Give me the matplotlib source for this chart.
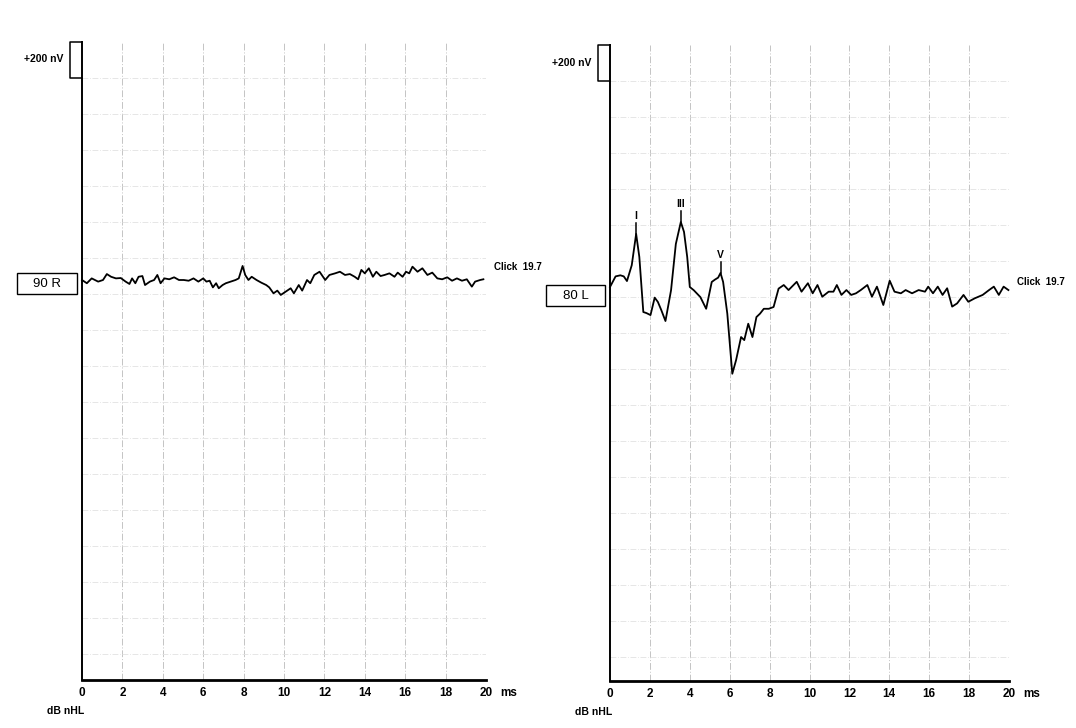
import numpy as np
import matplotlib
matplotlib.use("Agg")
import matplotlib.pyplot as plt
from matplotlib.patches import Rectangle

plt.rcParams['font.family'] = ['Liberation Sans', 'DejaVu Sans']

# ---- data (ms, nV) ----
right_ear_t = [0, 0.24, 0.48, 0.8, 1.04, 1.23, 1.44, 1.68, 1.92, 2.16, 2.35, 2.48, 2.64, 2.8,
               2.99, 3.12, 3.36, 3.57, 3.73, 3.89, 4.08, 4.32, 4.56, 4.8, 5.04, 5.28, 5.52, 5.76,
               6.0, 6.16, 6.32, 6.48, 6.64, 6.77, 6.96, 7.12, 7.36, 7.6, 7.76, 7.95, 8.08, 8.24,
               8.4, 8.64, 8.88, 9.12, 9.27, 9.48, 9.67, 9.84, 10.08, 10.33, 10.49, 10.73, 10.9,
               11.14, 11.3, 11.5, 11.76, 12.04, 12.25, 12.53, 12.77, 13.02, 13.26, 13.5, 13.67,
               13.83, 14.0, 14.2, 14.4, 14.57, 14.78, 14.98, 15.22, 15.47, 15.63, 15.87, 16.04,
               16.2, 16.36, 16.61, 16.85, 17.1, 17.34, 17.59, 17.83, 18.08, 18.32, 18.56, 18.81,
               19.05, 19.3, 19.46, 19.71, 19.87]
right_ear_nv = [0, -18, 9, -9, 0, 33, 18, 9, 11, -9, -22, 9, -18, 18,
                22, -28, -9, 0, 28, -18, 9, 4, 15, 0, 0, -4, 9, -9,
                9, -9, -4, -41, -18, -46, -28, -18, -9, 0, 9, 78, 28, 0,
                18, 0, -15, -28, -41, -74, -59, -83, -65, -46, -74, -28, -59,
                0, -18, 28, 46, 0, 28, 37, 46, 28, 33, 18, 4,
                56, 37, 65, 18, 46, 22, 28, 37, 18, 41, 18, 46,
                37, 74, 46, 65, 28, 41, 9, 4, 15, -4, 9, -4,
                4, -37, -9, 0, 4]

left_ear_t = [0, 0.28, 0.52, 0.69, 0.85, 1.09, 1.31, 1.47, 1.67, 1.83, 2.03, 2.24, 2.4, 2.57,
              2.78, 3.06, 3.3, 3.55, 3.71, 3.87, 4.0, 4.2, 4.53, 4.82, 5.1, 5.26, 5.42, 5.54,
              5.67, 5.88, 6.13, 6.32, 6.57, 6.73, 6.93, 7.14, 7.34, 7.52, 7.71, 7.96, 8.2, 8.45,
              8.71, 8.95, 9.36, 9.6, 9.92, 10.16, 10.4, 10.64, 10.96, 11.2, 11.37, 11.6, 11.85,
              12.09, 12.33, 12.57, 12.9, 13.13, 13.38, 13.7, 14.02, 14.26, 14.58, 14.82, 15.14,
              15.47, 15.79, 15.95, 16.19, 16.43, 16.67, 16.9, 17.15, 17.4, 17.72, 17.96, 18.28,
              18.68, 19.0, 19.24, 19.49, 19.73, 19.97]
left_ear_nv = [0, 59, 65, 59, 33, 121, 295, 167, -139, -145, -156, -59, -83, -128,
               -189, -18, 239, 361, 306, 167, 0, -18, -56, -121, 28, 41, 52, 78,
               28, -148, -482, -406, -278, -295, -204, -278, -167, -148, -121, -121, -111, -9,
               11, -17, 29, -26, 21, -35, 11, -54, -26, -26, 11, -44, -17,
               -44, -35, -17, 11, -54, 2, -100, 35, -26, -35, -17, -35,
               -17, -26, 2, -35, 2, -44, -7, -109, -91, -44, -82, -63,
               -44, -17, 2, -44, 2, -17]

peak_names = ['I', 'III', 'V']
peak_times = [1.31, 3.55, 5.54]

x_ticks = [0, 2, 4, 6, 8, 10, 12, 14, 16, 18, 20]
panel_labels = ['90 R', '80 L']
stim_label = 'Click  19.7'
scale_nv = 200

W, H = 1076, 728
fig = plt.figure(figsize=(W / 100, H / 100), dpi=100)
fig.patch.set_facecolor('white')

# panel geometry in pixels: (x0, x20, y_top, y_bottom, y_baseline)
panels = [(82, 486, 41.5, 680, 280), (610, 1009, 45, 681, 287)]
traces = [(right_ear_t, right_ear_nv), (left_ear_t, left_ear_nv)]
box_y = [(-78, 39), (-106, 11)]
box_left_px = [17, 546]
click_y = [72, 28]
nv_per_px = scale_nv / 36.0

for i, (x0, x1, yt, yb, ybase) in enumerate(panels):
    ax = fig.add_axes([x0 / W, (H - yb) / H, (x1 - x0) / W, (yb - yt) / H])
    ytop = (ybase - yt) * nv_per_px
    ybot = -(yb - ybase) * nv_per_px
    ax.set_xlim(0, 20)
    ax.set_ylim(ybot, ytop)
    ms_per_px = 20.0 / (x1 - x0)

    # grid
    for xv in x_ticks[1:]:
        ax.axvline(xv, color='#c4c4c4', lw=0.7, ls=(0, (7, 2, 1, 2)), zorder=0)
    k = 1
    while ytop - k * scale_nv > ybot + 50:
        ax.axhline(ytop - k * scale_nv, color='#e2e2e2', lw=0.6, ls=(0, (7, 2, 1, 2)), zorder=0)
        k += 1

    for s in ['top', 'right']:
        ax.spines[s].set_visible(False)
    ax.spines['left'].set_linewidth(1.4)
    ax.spines['bottom'].set_linewidth(2.0)
    ax.set_yticks([])
    ax.set_xticks(x_ticks)
    ax.set_xticklabels([str(v) for v in x_ticks], fontsize=8.5, fontweight='bold')
    ax.tick_params(axis='x', length=0, pad=5)

    t, v = traces[i]
    ax.plot(t, v, color='black', lw=1.3, zorder=3, clip_on=False,
            solid_joinstyle='round')

    # scale bar
    bw = 12 * ms_per_px
    ax.plot([0, -bw, -bw, 0], [ytop, ytop, ytop - scale_nv, ytop - scale_nv],
            color='black', lw=1.1, clip_on=False)
    ax.text(-bw - 7 * ms_per_px, ytop - scale_nv / 2, '+200 nV', ha='right', va='center',
            fontsize=7.5, fontweight='bold')

    # channel box
    b0, b1 = box_y[i]
    bx0 = -(x0 - box_left_px[i]) * ms_per_px
    bx1 = -5 * ms_per_px
    ax.add_patch(Rectangle((bx0, b0), bx1 - bx0, b1 - b0, fill=False, ec='black',
                           lw=1.0, clip_on=False))
    ax.text((bx0 + bx1) / 2, (b0 + b1) / 2, panel_labels[i], ha='center', va='center',
            fontsize=9.5)

    ax.text(20 + 8 * ms_per_px, click_y[i], stim_label, ha='left', va='center',
            fontsize=7, fontweight='bold')

    ax.text(20 + 14 * ms_per_px, ybot - 13 * nv_per_px, 'ms',
            ha='left', va='center', fontsize=8.5, fontweight='bold', clip_on=False)
    ax.text(-35 * ms_per_px, ybot - 31 * nv_per_px, 'dB nHL',
            ha='left', va='center', fontsize=7.5, fontweight='bold', clip_on=False)

    if i == 1:
        for name, pt in zip(peak_names, peak_times):
            pv = np.interp(pt, t, v)
            ax.plot([pt, pt], [pv, pv + 60], color='black', lw=1.1, zorder=3)
            ax.text(pt, pv + 70, name, ha='center', va='bottom', fontsize=7.5,
                    fontweight='bold')

fig.savefig('out.png', dpi=100, facecolor='white')
